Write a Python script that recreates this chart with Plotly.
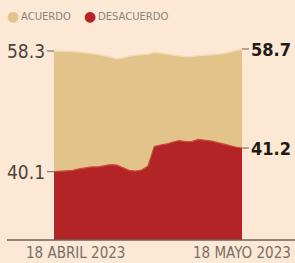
import pandas as pd
import plotly.graph_objects as go

# ---- data ----
dates = list(pd.date_range("2023-04-18", "2023-05-18", freq="D"))
acuerdo = [58.30, 58.30, 58.24, 58.18, 58.10, 58.00, 57.80, 57.60, 57.40, 57.10, 56.76,
           56.94, 57.30, 57.50, 57.60, 57.70, 58.06, 57.90, 57.70, 57.50, 57.30,
           57.14, 57.20, 57.40, 57.44, 57.50, 57.64, 57.80, 58.06, 58.30, 58.70]
desacuerdo = [40.10, 40.12, 40.13, 40.16, 40.23, 40.27, 40.32, 40.32, 40.37, 40.43, 40.41,
              40.27, 40.16, 40.13, 40.18, 40.37, 41.27, 41.34, 41.39, 41.48, 41.55,
              41.50, 41.50, 41.60, 41.57, 41.53, 41.46, 41.39, 41.30, 41.25, 41.20]
series_names = ["ACUERDO", "DESACUERDO"]
start_labels = ["58.3", "40.1"]
end_labels = ["58.7", "41.2"]
date_labels = ["18 ABRIL 2023", "18 MAYO 2023"]

BG = "#FCE8D4"
TAN = "#E2C48A"
RED = "#B22426"
NUM_FONT = "DejaVu Sans Condensed, DejaVu Sans, sans-serif"
LBL_FONT = "DejaVu Sans Condensed, DejaVu Sans, sans-serif"

fig = go.Figure()
fig.add_trace(go.Scatter(x=dates, y=acuerdo, name=series_names[0], mode="lines",
                         line=dict(color="#F0DCB6", width=1.5), fill="tozeroy",
                         fillcolor=TAN, yaxis="y", showlegend=False, hoverinfo="skip"))
fig.add_trace(go.Scatter(x=dates, y=desacuerdo, name=series_names[1], mode="lines",
                         line=dict(color="#CF4A3A", width=1.2), fill="tozeroy",
                         fillcolor=RED, yaxis="y2", showlegend=False, hoverinfo="skip"))

ann = []
# start labels (left)
for val, txt, yr in [(acuerdo[0], start_labels[0], "y"), (desacuerdo[0], start_labels[1], "y2")]:
    ann.append(dict(x=dates[0], y=val, xref="x", yref=yr, text=txt, showarrow=True,
                    arrowhead=0, arrowwidth=1, arrowcolor="#6a625a", ax=-7, ay=0,
                    xanchor="right", yanchor="middle",
                    font=dict(family=NUM_FONT, size=19, color="#4a4642")))
# end labels (right)
for val, txt, yr in [(acuerdo[-1], end_labels[0], "y"), (desacuerdo[-1], end_labels[1], "y2")]:
    ann.append(dict(x=dates[-1], y=val, xref="x", yref=yr, text="<b>%s</b>" % txt,
                    showarrow=True, arrowhead=0, arrowwidth=1, arrowcolor="#6a625a",
                    ax=7, ay=0, xanchor="left", yanchor="middle",
                    font=dict(family=NUM_FONT, size=18, color="#1e1b18")))
# date labels
ann.append(dict(x=dates[0], y=0, xref="x", yref="paper", text=date_labels[0],
                showarrow=False, xanchor="left", yanchor="top", xshift=-30, yshift=-2,
                font=dict(family=LBL_FONT, size=15, color="#74706b")))
ann.append(dict(x=dates[-1], y=0, xref="x", yref="paper", text=date_labels[1],
                showarrow=False, xanchor="left", yanchor="top", xshift=-51, yshift=-2,
                font=dict(family=LBL_FONT, size=15, color="#74706b")))
# legend
for name, col, cx in [(series_names[0], TAN, 13), (series_names[1], RED, 90)]:
    ann.append(dict(x=0, y=1, xref="paper", yref="paper", text="●", showarrow=False,
                    xanchor="center", yanchor="middle", xshift=cx - 54, yshift=24,
                    font=dict(family="DejaVu Sans", size=14, color=col)))
    ann.append(dict(x=0, y=1, xref="paper", yref="paper", text=name, showarrow=False,
                    xanchor="left", yanchor="middle", xshift=cx + 6 - 54, yshift=24,
                    font=dict(family="DejaVu Sans", size=10, color="#8a847d")))

fig.update_layout(
    width=295, height=263,
    margin=dict(l=54, r=53, t=40, b=23),
    paper_bgcolor=BG, plot_bgcolor=BG,
    xaxis=dict(visible=False, range=[dates[0], dates[-1]]),
    yaxis=dict(visible=False, range=[20.5, 60.5]),
    yaxis2=dict(visible=False, range=[36.923, 46.225], overlaying="y"),
    annotations=ann,
    shapes=[dict(type="line", xref="paper", yref="paper", x0=-0.25, x1=1.3, y0=0, y1=0,
                 line=dict(color="#6a625a", width=1.5))],
    showlegend=False,
    hovermode=False,
)

fig.write_html("out.html", config={"displayModeBar": False, "staticPlot": True})

# remove the browser's default page margin so the figure sits at the window origin
with open("out.html", "r", encoding="utf-8") as f:
    html = f.read()
html = html.replace("<body>", '<body style="margin:0;padding:0;overflow:hidden;background:%s">' % BG, 1)
with open("out.html", "w", encoding="utf-8") as f:
    f.write(html)
